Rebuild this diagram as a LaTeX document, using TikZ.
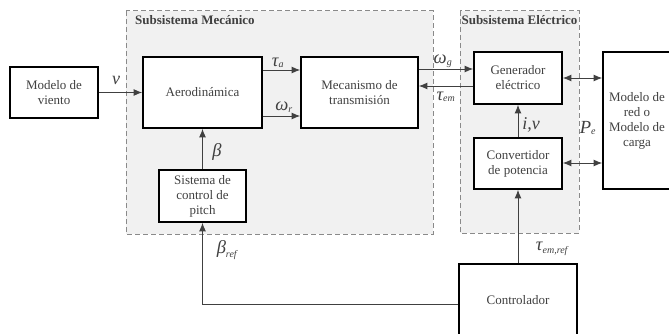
\documentclass[tikz,border=0pt]{standalone}
\usepackage{fontspec}
\setmainfont{Liberation Serif}
\usetikzlibrary{arrows.meta,shadows}
\definecolor{txt}{HTML}{404040}
\definecolor{wire}{HTML}{404040}
\definecolor{zone}{HTML}{F1F1F1}
\definecolor{zoneline}{HTML}{8A8A8A}
% signal name with a small italic subscript
\newcommand\sig[2]{{\fontsize{18.5}{18}\selectfont\itshape #1}\textsubscript{\fontsize{10}{10}\selectfont\itshape #2}}
\tikzset{
  blockbox/.style={draw=black, line width=1.8pt, fill=white, align=center,
    text=txt, font=\fontsize{13}{15}\selectfont, inner sep=2pt,
    drop shadow={shadow xshift=1.2pt, shadow yshift=-1.2pt, fill=gray!50, opacity=0.45}},
  zonebox/.style={draw=zoneline, dashed, dash pattern=on 5pt off 3pt, line width=1pt, fill=zone},
  wirearrow/.style={draw=wire, line width=0.9pt, -{Latex[length=8.5pt,width=7pt]}},
  biarrow/.style={draw=wire, line width=0.9pt, {Latex[length=8.5pt,width=7pt]}-{Latex[length=8.5pt,width=7pt]}},
  siglabel/.style={text=txt, inner sep=0pt},
  zonetitle/.style={font=\fontsize{13}{15}\selectfont\bfseries, text=txt, inner sep=0pt}
}
\begin{document}
\begin{tikzpicture}[x=1pt, y=-1pt]
\useasboundingbox (0,0) rectangle (669,334);
\clip (0,0) rectangle (669,334);

% subsystem regions
\draw[zonebox] (126,11) rectangle (433,234);
\draw[zonebox] (460,11) rectangle (579,233);
\node[zonetitle, anchor=west] (tmec) at (135,20) {Subsistema Mecánico};
\node[zonetitle] (tele) at (519.5,20) {Subsistema Eléctrico};

% blocks
\node[blockbox, minimum width=88pt, minimum height=51pt] (wind) at (54,92.5) {Modelo de\\viento};
\node[blockbox, minimum width=119pt, minimum height=71pt] (aero) at (202.5,92.5) {Aerodinámica};
\node[blockbox, minimum width=117pt, minimum height=71pt] (mech) at (359.5,92.5) {Mecanismo de\\transmisión};
\node[blockbox, minimum width=87pt, minimum height=52pt] (pitch) at (202.5,196) {Sistema de\\control de\\pitch};
\node[blockbox, minimum width=88pt, minimum height=52pt] (gen) at (518,78) {Generador\\eléctrico};
\node[blockbox, minimum width=88pt, minimum height=51pt] (conv) at (518,163.5) {Convertidor\\de potencia};
\node[blockbox, minimum width=68pt, minimum height=137pt] (grid) at (637,120.5) {Modelo de\\red o\\Modelo de\\carga};
\node[blockbox, minimum width=118pt, minimum height=72pt] (ctrl) at (518,300) {Controlador};

% signal levels
\coordinate (yta) at (0,70);
\coordinate (ywr) at (0,116);
\coordinate (ywg) at (0,69);
\coordinate (ytem) at (0,86);
\coordinate (ygen) at (0,78);
\coordinate (yconv) at (0,163);
\coordinate (yref) at (0,304);

% connectors
\draw[wirearrow] (wind) -- (aero);
\draw[wirearrow] (aero.east |- yta) -- (mech.west |- yta);
\draw[wirearrow] (aero.east |- ywr) -- (mech.west |- ywr);
\draw[wirearrow] (mech.east |- ywg) -- (gen.west |- ywg);
\draw[wirearrow] (gen.west |- ytem) -- (mech.east |- ytem);
\draw[biarrow] (gen.east |- ygen) -- (grid.west |- ygen);
\draw[biarrow] (conv.east |- yconv) -- (grid.west |- yconv);
\draw[wirearrow] (pitch) -- (aero);
\draw[wirearrow] (conv) -- (gen);
\draw[wirearrow] (ctrl) -- (conv);
\draw[wirearrow] (ctrl.west |- yref) -| (pitch.south);

% signal labels
\node[siglabel] (lv) at (116,80) {\fontsize{18}{18}\selectfont\itshape v};
\node[siglabel] (lta) at (278,63) {\sig{τ}{a}};
\node[siglabel] (lwr) at (284,107) {\sig{ω}{r}};
\node[siglabel] (lwg) at (443,61) {\sig{ω}{g}};
\node[siglabel] (ltem) at (446,97) {\sig{τ}{em}};
\node[siglabel] (lpe) at (588,128) {\sig{P}{e}};
\node[siglabel] (liv) at (531,125) {\fontsize{18}{18}\selectfont\itshape i,v};
\node[siglabel] (lb) at (217,152) {\fontsize{18.5}{18}\selectfont\itshape β};
\node[siglabel] (lbr) at (227,250) {\sig{β}{ref}};
\node[siglabel] (ltr) at (552,249) {\sig{τ}{em,ref}};
\end{tikzpicture}
\end{document}
